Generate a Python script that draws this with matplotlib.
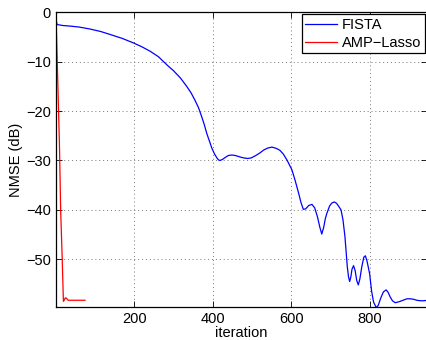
import numpy as np
import matplotlib.pyplot as plt

plt.rcParams['font.family'] = ['Liberation Sans', 'DejaVu Sans']

# FISTA NMSE (dB)
fista_it = [1, 2, 4, 20, 37, 60, 88, 115, 139, 170, 198, 220, 241, 262, 275, 287, 300, 318,
            334, 345, 355, 364, 372, 379, 385, 392, 398, 405, 411, 415, 419, 425, 432,
            440, 449, 458, 470, 480, 489, 498, 510, 520, 530, 540, 551, 560, 566, 572,
            580, 590, 602, 610, 619, 625, 631, 637, 645, 653, 660, 667, 673, 678, 683,
            687, 691, 698, 704, 710, 716, 722, 727, 732, 737, 743, 746, 749, 752, 755,
            759, 763, 767, 771, 775, 780, 785, 789, 793, 797, 800, 805, 810, 817, 822,
            828, 835, 842, 847, 852, 858, 865, 875, 885, 895, 903, 912, 920, 929, 938,
            947]
fista_db = [-0.3, -1.8, -2.5, -2.7, -2.8, -3.0, -3.4, -3.9, -4.5, -5.3, -6.2, -7.0, -7.9,
            -9.0, -10.0, -10.9, -11.8, -13.3, -15.0, -16.3, -17.8, -19.3, -21.1, -22.8, -24.5,
            -26.1, -27.5, -28.7, -29.5, -29.9, -30.0, -29.8, -29.4, -29.0, -28.9, -29.0,
            -29.3, -29.5, -29.6, -29.5, -29.0, -28.5, -27.9, -27.5, -27.3, -27.5, -27.7,
            -28.0, -28.7, -30.0, -31.9, -34.0, -36.6, -38.5, -39.9, -39.8, -39.1, -38.9,
            -39.6, -41.4, -43.5, -44.9, -43.5, -41.8, -40.7, -39.2, -38.6, -38.4, -38.7,
            -39.4, -40.0, -42.0, -45.4, -51.5, -53.5, -54.5, -53.6, -52.0, -51.3, -52.3,
            -54.3, -55.2, -54.0, -51.5, -49.6, -49.3, -50.3, -51.8, -53.0, -56.5, -58.7,
            -59.8, -59.3, -57.9, -56.6, -56.2, -56.7, -57.6, -58.4, -58.8, -58.6, -58.3,
            -58.0, -58.0, -58.1, -58.3, -58.4, -58.4, -58.3]

# AMP-Lasso NMSE (dB)
amp_it = [1, 10, 13, 17, 20, 22, 25, 28, 32, 50, 75]
amp_db = [0.0, -27.0, -40.0, -50.0, -58.5, -58.3, -57.8, -57.9, -58.3, -58.3, -58.3]

fig = plt.figure(figsize=(4.27, 3.4), dpi=100)
ax = fig.add_axes([0.131, 0.098, 0.869, 0.866])

ax.plot(fista_it, fista_db, color='blue', lw=0.9, label='FISTA')
ax.plot(amp_it, amp_db, color='red', lw=0.9, label='AMP\u2212Lasso')

ax.set_xlim(1, 946)
ax.set_ylim(-59.6, 0)
ax.set_xticks([200, 400, 600, 800])
ax.set_yticks([0, -10, -20, -30, -40, -50])
ax.set_yticklabels(['0', '\u221210', '\u221220', '\u221230', '\u221240', '\u221250'])
ax.tick_params(direction='in', top=True, right=True, length=4, width=0.6, labelsize=10.5)
ax.grid(True, linestyle=(0, (1, 3)), color='#777777', lw=0.7)
for s in ax.spines.values():
    s.set_linewidth(0.9)

ax.set_xlabel('iteration', fontsize=10.5, labelpad=0)
ax.set_ylabel('NMSE (dB)', fontsize=10.5, labelpad=2)

leg = ax.legend(loc='upper right', fontsize=10.5, fancybox=False, framealpha=1,
                edgecolor='black', borderpad=0.25, handlelength=2.2,
                handletextpad=0.3, labelspacing=0.25, borderaxespad=0.15)
leg.get_frame().set_linewidth(0.9)

plt.savefig('out.png', dpi=100)
